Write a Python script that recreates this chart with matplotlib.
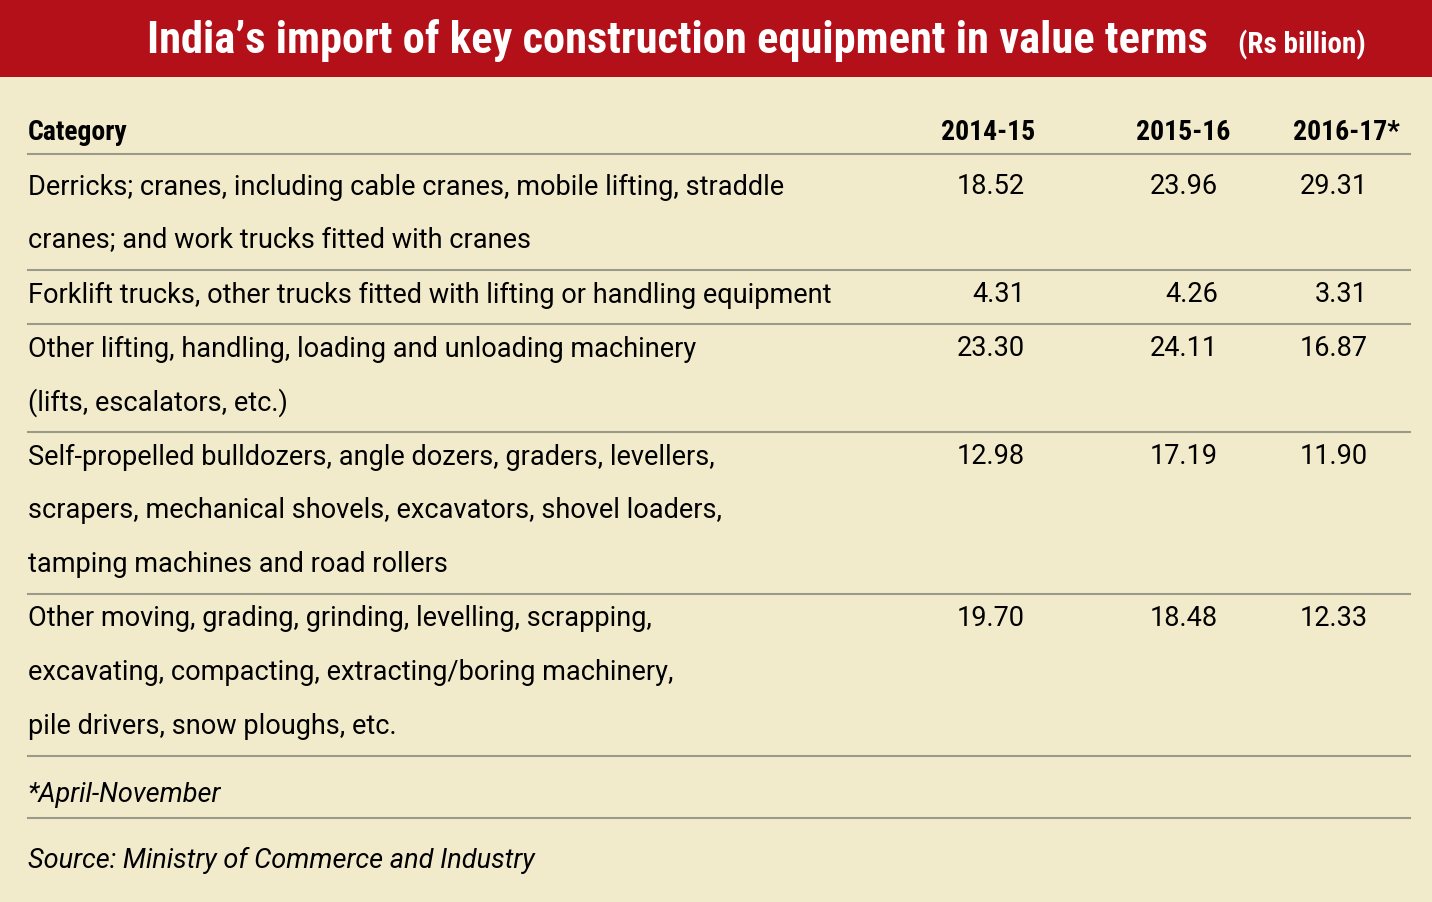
import matplotlib
matplotlib.use("Agg")
import matplotlib.pyplot as plt
from matplotlib.patches import Rectangle

W, H = 1432, 903
title = "India\u2019s import of key construction equipment in value terms"
unit = "(Rs billion)"
years = ["2014-15", "2015-16", "2016-17*"]
categories = [
    ["Derricks; cranes, including cable cranes, mobile lifting, straddle",
     "cranes; and work trucks fitted with cranes"],
    ["Forklift trucks, other trucks fitted with lifting or handling equipment"],
    ["Other lifting, handling, loading and unloading machinery",
     "(lifts, escalators, etc.)"],
    ["Self-propelled bulldozers, angle dozers, graders, levellers,",
     "scrapers, mechanical shovels, excavators, shovel loaders,",
     "tamping machines and road rollers"],
    ["Other moving, grading, grinding, levelling, scrapping,",
     "excavating, compacting, extracting/boring machinery,",
     "pile drivers, snow ploughs, etc."],
]
v2014 = ["18.52", "4.31", "23.30", "12.98", "19.70"]
v2015 = ["23.96", "4.26", "24.11", "17.19", "18.48"]
v2016 = ["29.31", "3.31", "16.87", "11.90", "12.33"]
footnote = "*April-November"
source = "Source: Ministry of Commerce and Industry"

BG = "#f2ebcb"
RED = "#b31019"
LINE = "#9a9a8a"
FONT = ["Roboto Condensed", "DejaVu Sans"]
BODY = ["Roboto", "DejaVu Sans"]

fig = plt.figure(figsize=(W / 100, H / 100), dpi=100, facecolor=BG)
ax = fig.add_axes([0, 0, 1, 1])
ax.set_xlim(0, W)
ax.set_ylim(H, 0)
ax.axis("off")

ax.add_patch(Rectangle((0, 0), W, 78, color=RED, lw=0))
ax.text(1208, 40, title, color="white", fontsize=32, fontweight="bold",
        family=FONT, va="center", ha="right")
ax.text(1366, 45, unit, color="white", fontsize=21, fontweight="bold",
        family=FONT, va="center", ha="right")

col_x = [1025, 1218, 1368]
head_x = [1035, 1230, 1400]
ax.text(28, 133, "Category", fontsize=20, fontweight="bold", family=FONT, va="center")
for x, yr in zip(head_x, years):
    ax.text(x, 133, yr, fontsize=20, fontweight="bold", family=FONT, va="center", ha="right")

def hline(y):
    ax.plot([28, 1410], [y, y], color=LINE, lw=1.5)

hline(155)
y = 187
step = 54
for lines, a, b, c in zip(categories, v2014, v2015, v2016):
    for i, ln in enumerate(lines):
        ax.text(28, y + i * step, ln, fontsize=19.5, family=BODY, va="center")
    for x, v in zip(col_x, [a, b, c]):
        ax.text(x, y, v, fontsize=19.5, family=BODY, va="center", ha="right")
    y += step * len(lines)
    hline(y - 24)

ax.text(28, 795, footnote, fontsize=19.5, family=BODY, style="italic", va="center")
hline(819)
ax.text(28, 860, source, fontsize=19.5, family=BODY, style="italic", va="center")

fig.savefig("out.png", dpi=100, facecolor=BG)
